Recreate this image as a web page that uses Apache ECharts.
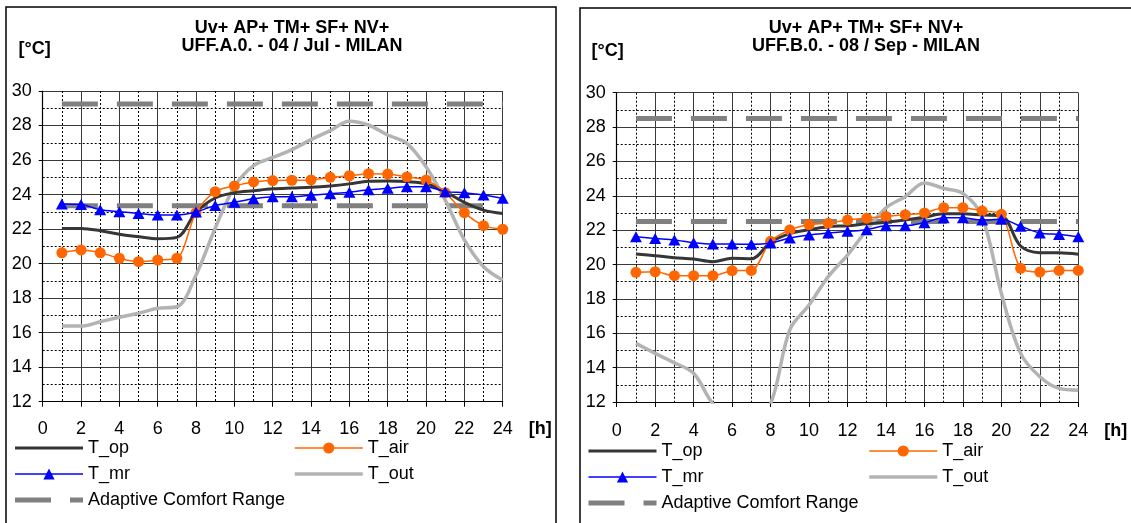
<!DOCTYPE html>
<html><head><meta charset="utf-8">
<script src="https://cdn.jsdelivr.net/npm/echarts@6.0.0/dist/echarts.min.js"></script>
<style>html,body{margin:0;padding:0;background:#fff}#c{width:1131px;height:523px}</style>
</head><body><div id="c"></div>
<script>
// ---- data ----
const hours = [1,2,3,4,5,6,7,8,9,10,11,12,13,14,15,16,17,18,19,20,21,22,23,24];
const xTickLabels = [0,2,4,6,8,10,12,14,16,18,20,22,24];
const yTickLabels = [12,14,16,18,20,22,24,26,28,30];

const titleA = ['Uv+ AP+ TM+ SF+ NV+', 'UFF.A.0. - 04 / Jul - MILAN'];
const titleB = ['Uv+ AP+ TM+ SF+ NV+', 'UFF.B.0. - 08 / Sep - MILAN'];

// Left panel: 04 / Jul
const tOpA  = [22.04,22.04,21.91,21.70,21.56,21.44,21.52,22.97,23.80,24.10,24.22,24.33,24.38,24.42,24.50,24.62,24.77,24.79,24.75,24.63,24.17,23.55,23.10,22.90];
const tAirA = [20.63,20.79,20.63,20.31,20.11,20.21,20.31,22.95,24.17,24.50,24.73,24.81,24.83,24.85,25.00,25.09,25.21,25.19,25.02,24.84,24.11,22.95,22.20,21.99];
const tMrA  = [23.45,23.42,23.12,23.01,22.91,22.82,22.82,22.99,23.37,23.56,23.76,23.88,23.88,23.96,24.05,24.14,24.28,24.36,24.46,24.46,24.17,24.11,23.97,23.78];
const tOutA = [16.38,16.38,16.63,16.89,17.12,17.41,17.50,19.34,22.05,24.45,25.68,26.15,26.60,27.18,27.70,28.25,28.03,27.45,26.97,25.61,23.68,21.37,19.82,19.05];
const comfortHoursA = [1, 24];
const comfortUpA  = [29.25, 29.25];
const comfortLowA = [23.35, 23.35];

// Right panel: 08 / Sep
const tOpB  = [20.61,20.51,20.40,20.32,20.16,20.36,20.33,21.30,21.80,22.03,22.20,22.26,22.37,22.46,22.59,22.75,22.95,22.95,22.88,22.83,21.08,20.69,20.68,20.60];
const tAirB = [19.55,19.58,19.35,19.35,19.35,19.64,19.66,21.35,22.01,22.32,22.40,22.59,22.70,22.80,22.90,23.00,23.31,23.31,23.12,22.92,19.78,19.56,19.66,19.66];
const tMrB  = [21.62,21.52,21.43,21.27,21.19,21.19,21.18,21.25,21.54,21.72,21.83,21.93,22.03,22.25,22.25,22.43,22.72,22.72,22.59,22.63,22.23,21.84,21.75,21.62];
const tOutB = [15.41,14.83,14.28,13.67,11.90,11.00,10.80,11.90,16.20,17.65,19.30,20.55,22.00,23.30,23.95,24.75,24.43,24.14,22.78,18.32,14.83,13.47,12.79,12.69];
const comfortHoursB = [1, 24];
const comfortUpB  = [28.5, 28.5];
const comfortLowB = [22.5, 22.5];

// ---- build ----
const FONT = "'Liberation Sans', Arial, sans-serif";
const pairs = (xs, ys) => xs.map((x, i) => [x, ys[i]]);

function axes(idx, nameShift, hLine) {
  const x = {
    type: 'value', gridIndex: idx, min: 0, max: 24, interval: 2,
    name: '[h]', nameLocation: 'end', nameGap: 26,
    nameTextStyle: { fontFamily: FONT, fontSize: 18, fontWeight: 'bold', color: '#000',
      verticalAlign: 'top', lineHeight: hLine },
    axisLine: { show: true, lineStyle: { color: '#000', width: 1.2 } },
    axisTick: { show: true, length: 5, lineStyle: { color: '#000' } },
    axisLabel: { fontFamily: FONT, fontSize: 18, color: '#000', margin: idx === 0 ? 18 : 20,
      formatter: v => xTickLabels.includes(v) ? String(v) : '' },
    splitLine: { show: true, lineStyle: { color: '#3a3a3a', width: 1 } },
    minorTick: { show: false, splitNumber: 2 },
    minorSplitLine: { show: true, lineStyle: { color: '#000', width: 1, type: [2, 2] } }
  };
  const y = {
    type: 'value', gridIndex: idx, min: 12, max: 30, interval: 2,
    name: '[°C]', nameLocation: 'end', nameGap: 33,
    nameTextStyle: { fontFamily: FONT, fontSize: 18, fontWeight: 'bold', color: '#000', padding: [0, nameShift, 0, 0] },
    axisLine: { show: true, lineStyle: { color: '#000', width: 1.2 } },
    axisTick: { show: true, length: 4, lineStyle: { color: '#000' } },
    axisLabel: { fontFamily: FONT, fontSize: 18, color: '#000', margin: 11,
      formatter: v => yTickLabels.includes(v) ? String(v) : '' },
    splitLine: { show: true, lineStyle: { color: '#3a3a3a', width: 1 } },
    minorTick: { show: false, splitNumber: 2 },
    minorSplitLine: { show: true, lineStyle: { color: '#000', width: 1, type: [2, 2] } }
  };
  return [x, y];
}

function seriesFor(idx, op, air, mr, out, cH, cUp, cLow) {
  const base = { xAxisIndex: idx, yAxisIndex: idx, type: 'line', animation: false };
  const comfortStyle = { color: '#808080', width: 5, type: [36, 19], cap: 'butt' };
  return [
    Object.assign({}, base, { name: 'Adaptive Comfort Range', data: pairs(cH, cUp), symbol: 'none',
      itemStyle: { color: '#808080' }, lineStyle: comfortStyle, z: 1 }),
    Object.assign({}, base, { name: 'Adaptive Comfort Range', data: pairs(cH, cLow), symbol: 'none',
      itemStyle: { color: '#808080' }, lineStyle: comfortStyle, z: 1 }),
    Object.assign({}, base, { name: 'T_out', data: pairs(hours, out), symbol: 'none', smooth: 0.35,
      itemStyle: { color: '#b3b3b3' }, lineStyle: { color: '#b3b3b3', width: 3.5 }, z: 2 }),
    Object.assign({}, base, { name: 'T_op', data: pairs(hours, op), symbol: 'none', smooth: 0.35,
      itemStyle: { color: '#363636' }, lineStyle: { color: '#363636', width: 3 }, z: 3 }),
    Object.assign({}, base, { name: 'T_air', data: pairs(hours, air), symbol: 'circle', symbolSize: 11, smooth: 0.3,
      itemStyle: { color: '#ff6600' }, lineStyle: { color: '#ff6600', width: 1.5 }, z: 4 }),
    Object.assign({}, base, { name: 'T_mr', data: pairs(hours, mr), symbol: 'triangle', symbolSize: [12, 11], smooth: 0.3,
      itemStyle: { color: '#0000ff' }, lineStyle: { color: '#0000ff', width: 1.5 }, z: 5 })
  ];
}

const noMarker = ['T_op', 'T_out', 'Adaptive Comfort Range'];
function legend(left, top, names) {
  return {
    left: left, top: top, orient: 'vertical', itemGap: 6, padding: 0,
    itemWidth: 68, itemHeight: 14, selectedMode: false, z: 120,
    data: names.map(n => noMarker.includes(n) ? { name: n, itemStyle: { opacity: 0 } } : n),
    lineStyle: { width: 'inherit' },
    textStyle: { fontFamily: FONT, fontSize: 18, color: '#000', lineHeight: 20 }
  };
}

function title(cx, lines) {
  return {
    text: lines.join('\n'), left: cx, top: 19, padding: 0, textAlign: 'center',
    textStyle: { fontFamily: FONT, fontSize: 18, fontWeight: 'bold', color: '#000', lineHeight: 18 }
  };
}

const [xA, yA] = axes(0, 16, 54);
const [xB, yB] = axes(1, 18, 58);

const option = {
  backgroundColor: '#fff',
  animation: false,
  title: [title(292, titleA), title(866, titleB)],
  grid: [
    { left: 42.7, top: 91, width: 460, height: 310.7, containLabel: false },
    { left: 616.7, top: 92.7, width: 461.6, height: 309.3, containLabel: false }
  ],
  xAxis: [xA, xB],
  yAxis: [yA, yB],
  legend: [
    legend(12.5, 438, ['T_op', 'T_mr', 'Adaptive Comfort Range']),
    legend(293, 438, ['T_air', 'T_out']),
    legend(586, 441, ['T_op', 'T_mr', 'Adaptive Comfort Range']),
    legend(867.5, 441, ['T_air', 'T_out'])
  ],
  series: [].concat(
    seriesFor(0, tOpA, tAirA, tMrA, tOutA, comfortHoursA, comfortUpA, comfortLowA),
    seriesFor(1, tOpB, tAirB, tMrB, tOutB, comfortHoursB, comfortUpB, comfortLowB)
  ),
  graphic: [
    { type: 'rect', z: 100, shape: { x: 30, y: 434.5, width: 480, height: 5 }, style: { fill: '#fff' } },
    { type: 'rect', z: 101, shape: { x: 6, y: 7, width: 550, height: 540 }, style: { fill: 'none', stroke: '#000', lineWidth: 1.5 } },
    { type: 'rect', z: 101, shape: { x: 580, y: 8, width: 570, height: 540 }, style: { fill: 'none', stroke: '#000', lineWidth: 1.5 } }
  ]
};

const chart = echarts.init(document.getElementById('c'), null, { renderer: 'canvas' });
chart.setOption(option);
</script>
</body></html>
